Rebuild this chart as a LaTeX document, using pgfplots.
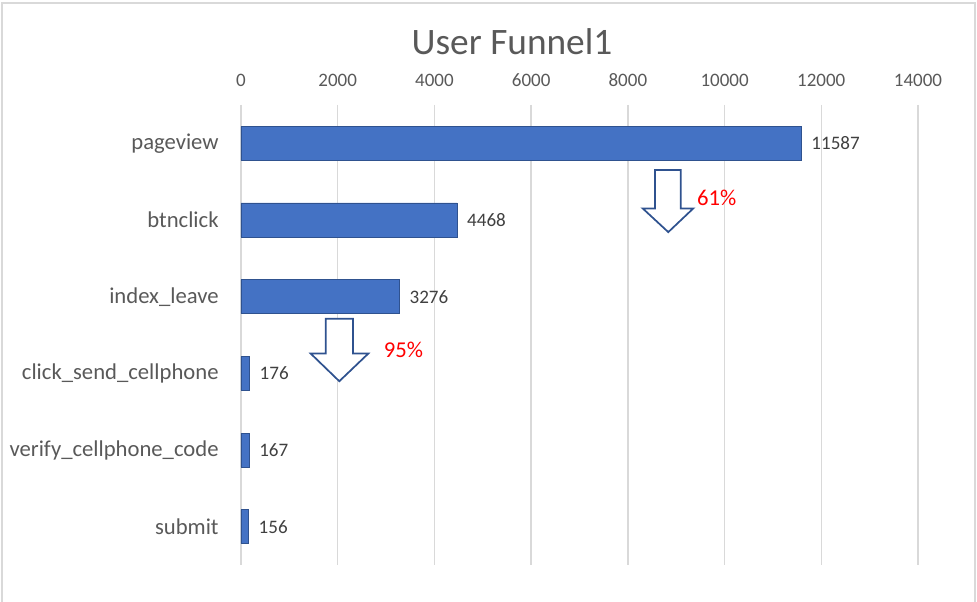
\documentclass[border=0pt]{standalone}
\usepackage{fontspec}
\setmainfont{Carlito}
\usepackage{pgfplots}
\pgfplotsset{compat=1.18}
\definecolor{barfill}{HTML}{4472C4}
\definecolor{bardraw}{HTML}{2F528F}
\definecolor{txtgray}{HTML}{595959}
\definecolor{lblgray}{HTML}{404040}
\definecolor{gridgray}{HTML}{D9D9D9}
\definecolor{arrowblue}{HTML}{2F528F}
\begin{document}
\begin{tikzpicture}
\path[use as bounding box] (-180.75pt,-27.75pt) rectangle (552pt,423.75pt);
\draw[gridgray, line width=0.8pt] (-179.25pt,-27.75pt) -- (-179.25pt,421.5pt) -- (550.5pt,421.5pt) -- (550.5pt,-27.75pt);
\node[anchor=base, font=\fontsize{28}{33}\selectfont, text=txtgray] at (203.25pt,382.5pt) {User Funnel1};
\begin{axis}[
  at={(0pt,0pt)}, anchor=south west,
  scale only axis, width=507.75pt, height=345pt,
  xbar, bar width=25.5pt,
  xmin=0, xmax=14000,
  ymin=-0.5, ymax=5.5, y dir=reverse,
  xtick={0,2000,...,14000},
  scaled x ticks=false,
  xticklabel style={/pgf/number format/fixed, /pgf/number format/1000 sep={}},
  ytick={0,1,2,3,4,5},
  yticklabels={pageview,btnclick,index\_leave,click\_send\_cellphone,verify\_cellphone\_code,submit},
  xticklabel pos=upper,
  /pgf/number format/assume math mode=true,
  /pgf/number format/1000 sep={},
  xticklabel style={font=\fontsize{14.25}{17}\selectfont, text=txtgray, yshift=10.5pt},
  yticklabel style={font=\fontsize{17}{20}\selectfont, text=txtgray, xshift=-9pt},
  axis line style={draw=none},
  tick style={draw=none},
  xmajorgrids, grid style={gridgray, line width=1pt},
  nodes near coords,
  nodes near coords style={font=\fontsize{14.3}{17}\selectfont, text=lblgray, xshift=4pt, /pgf/number format/1000 sep={}},
  clip=false,
]
\addplot[fill=barfill, draw=bardraw, line width=0.6pt] coordinates {
  (11587,0) (4468,1) (3276,2) (176,3) (167,4) (156,5)
};
\draw[arrowblue, line width=1.3pt, fill=white] (axis cs:8561,0.349) -- (axis cs:9093,0.349) -- (axis cs:9093,0.849) -- (axis cs:9353,0.849) -- (axis cs:8836,1.158) -- (axis cs:8307,0.849) -- (axis cs:8561,0.849) -- cycle;
\draw[arrowblue, line width=1.3pt, fill=white] (axis cs:1752,2.289) -- (axis cs:2316,2.289) -- (axis cs:2316,2.742) -- (axis cs:2633,2.742) -- (axis cs:2033,3.103) -- (axis cs:1441,2.742) -- (axis cs:1752,2.742) -- cycle;
\node[text=red, font=\fontsize{17}{20}\selectfont] at (axis cs:9837,0.705) {61\%};
\node[text=red, font=\fontsize{17}{20}\selectfont] at (axis cs:3360,2.689) {95\%};
\end{axis}
\end{tikzpicture}
\end{document}
